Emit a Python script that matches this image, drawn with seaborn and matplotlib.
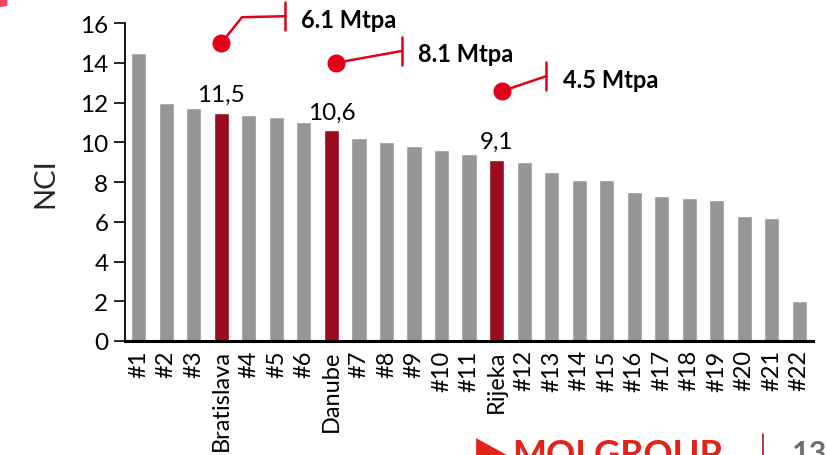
import matplotlib
matplotlib.use("Agg")
import matplotlib.pyplot as plt
import seaborn as sns
import pandas as pd
from matplotlib.patches import Polygon

sns.set_theme(style="white")
plt.rcParams["font.family"] = ["Lato", "DejaVu Sans"]

# Terminals ranked by Nelson complexity index
labels = ["#1", "#2", "#3", "Bratislava", "#4", "#5", "#6", "Danube", "#7", "#8",
          "#9", "#10", "#11", "Rijeka", "#12", "#13", "#14", "#15", "#16", "#17",
          "#18", "#19", "#20", "#21", "#22"]
nci = [14.5, 12.0, 11.75, 11.5, 11.4, 11.3, 11.0, 10.6, 10.2, 10.0,
       9.8, 9.6, 9.4, 9.1, 9.0, 8.5, 8.1, 8.1, 7.5, 7.3,
       7.2, 7.1, 6.3, 6.2, 2.0]
highlighted = ["Bratislava", "Danube", "Rijeka"]
capacity_labels = ["6.1 Mtpa", "8.1 Mtpa", "4.5 Mtpa"]

GREY = "#969696"
DARK_RED = "#9A0B1F"
RED = "#E2001A"

df = pd.DataFrame({"site": labels, "nci": nci})
palette = {s: (DARK_RED if s in highlighted else GREY) for s in labels}

fig = plt.figure(figsize=(8.28, 4.56), dpi=100)
ax = fig.add_axes([0.151, 0.25, 0.831, 0.697])

sns.barplot(data=df, x="site", y="nci", hue="site", palette=palette,
            width=0.55, legend=False, ax=ax, saturation=1)

ax.set_xlim(-0.5, 24.5)
ax.set_ylim(0, 16)
ax.set_yticks(range(0, 17, 2))
ax.set_xlabel("")
ax.set_ylabel("NCI", fontsize=21, labelpad=16)
ax.tick_params(axis="y", labelsize=17.5, direction="out", length=8, width=1.2,
               left=True, color="black", pad=4)
ax.tick_params(axis="x", labelsize=17, rotation=90, length=0, pad=6)
for lab in ax.get_xticklabels() + ax.get_yticklabels():
    lab.set_color("black")

sns.despine(ax=ax)
ax.spines["left"].set_color("black")
ax.spines["left"].set_linewidth(1.3)
ax.spines["bottom"].set_color("black")
ax.spines["bottom"].set_linewidth(2.2)

# value labels on highlighted bars
for i, (s, v) in enumerate(zip(labels, nci)):
    if s in highlighted:
        ax.text(i, v + 0.4, f"{v:.1f}".replace(".", ","), ha="center",
                va="bottom", fontsize=17.5, color="black")

# capacity callouts: dot, leader line, end bar, bold label
callouts = [
    # (dot x, dot y, bend x, bend y, end x, end y)
    (3.0, 15.0, 3.75, 16.3, 5.3, 16.35),
    (7.15, 14.0, None, None, 9.56, 14.6),
    (13.2, 12.58, None, None, 14.8, 13.33),
]
for (dx, dy, bx, by, ex, ey), txt in zip(callouts, capacity_labels):
    xs = [dx] + ([bx] if bx is not None else []) + [ex]
    ys = [dy] + ([by] if by is not None else []) + [ey]
    ax.plot(xs, ys, color=RED, lw=1.8, clip_on=False, zorder=5)
    ax.plot([dx], [dy], "o", color=RED, ms=12, clip_on=False, zorder=6)
    ax.plot([ex, ex], [ey - 0.7, ey + 0.7], color=RED, lw=1.8,
            clip_on=False, zorder=5)
    ax.text(ex + 0.6, ey - 0.15, txt, fontsize=17, fontweight="bold",
            color="black", ha="left", va="center", clip_on=False)

# corner decoration and footer branding
fig.patches.append(Polygon([(0, 1), (0.009, 1), (0.009, 0.985), (0, 0.982)],
                           closed=True, transform=fig.transFigure,
                           facecolor="#F0455C", edgecolor="none"))
fig.patches.append(Polygon([(0.575, 0.037), (0.612, 0.0), (0.575, -0.04)],
                           closed=True, transform=fig.transFigure,
                           facecolor="#E2231A", edgecolor="none"))
fig.text(0.618, 0.037, "MOLGROUP", color="#E2231A", fontsize=26,
         ha="left", va="top", fontweight="bold")
fig.lines.append(plt.Line2D([0.922, 0.922], [0.0, 0.045], transform=fig.transFigure,
                            color="#B0102A", lw=1.2))
fig.text(0.957, 0.034, "13", color="#6E6E6E", fontsize=22, fontweight="bold",
         ha="left", va="top")

fig.savefig("out.png", dpi=100)
